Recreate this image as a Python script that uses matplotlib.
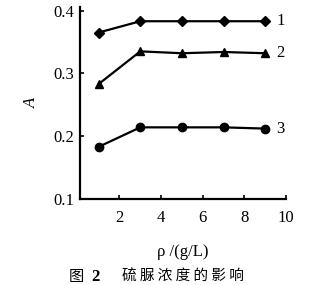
import matplotlib
matplotlib.use('Agg')
import matplotlib.pyplot as plt

# thiourea concentration (g/L)
rho = [1, 3, 5, 7, 9]
A1 = [0.365, 0.383, 0.383, 0.383, 0.383]
A2 = [0.283, 0.335, 0.332, 0.334, 0.332]
A3 = [0.183, 0.214, 0.214, 0.214, 0.212]
series_labels = ["1", "2", "3"]
xticks = [2, 4, 6, 8, 10]
yticks = [0.1, 0.2, 0.3, 0.4]

SERIF = ["Liberation Serif", "DejaVu Serif"]
CJK = ["Noto Sans CJK SC", "DejaVu Sans"]

fig = plt.figure(figsize=(3.21, 2.85), dpi=100, facecolor="white")
ax = fig.add_axes([0.249, 0.302, 0.642, 0.672])

ax.plot(rho, A1, color="black", lw=1.6, marker="D", ms=5)
ax.plot(rho, A2, color="black", lw=1.6, marker="^", ms=6)
ax.plot(rho, A3, color="black", lw=1.6, marker="o", ms=6)

for lab, ys in zip(series_labels, [A1, A2, A3]):
    ax.annotate(lab, (rho[-1], ys[-1]), xytext=(8, 0), textcoords="offset points",
                va="center", ha="left", fontsize=12, family=SERIF)

ax.set_xlim(0.1, 10)
ax.set_ylim(0.1, 0.405)
ax.set_xticks(xticks)
ax.set_yticks(yticks)
ax.set_xticklabels([str(t) for t in xticks], family=SERIF, fontsize=12)
ax.set_yticklabels(["%.1f" % t for t in yticks], family=SERIF, fontsize=12)
ax.tick_params(axis="x", direction="in", length=3, width=1.2, pad=8)
ax.tick_params(axis="y", direction="in", length=3, width=1.2, pad=4)

ax.spines["top"].set_visible(False)
ax.spines["right"].set_visible(False)
for s in ["left", "bottom"]:
    ax.spines[s].set_linewidth(1.6)

ax.set_ylabel("A", family=SERIF, style="italic", fontsize=12, labelpad=10)
ax.set_xlabel("ρ /(g/L)", family=SERIF, fontsize=12, labelpad=13)

fig.text(0.215, 0.015, "图", family=CJK, fontsize=11)
fig.text(0.285, 0.015, "2", family=SERIF, fontsize=12, weight="bold")
fig.text(0.38, 0.015, "硫 脲 浓 度 的 影 响", family=CJK, fontsize=10.5)

fig.savefig("out.png", dpi=100, facecolor="white")
